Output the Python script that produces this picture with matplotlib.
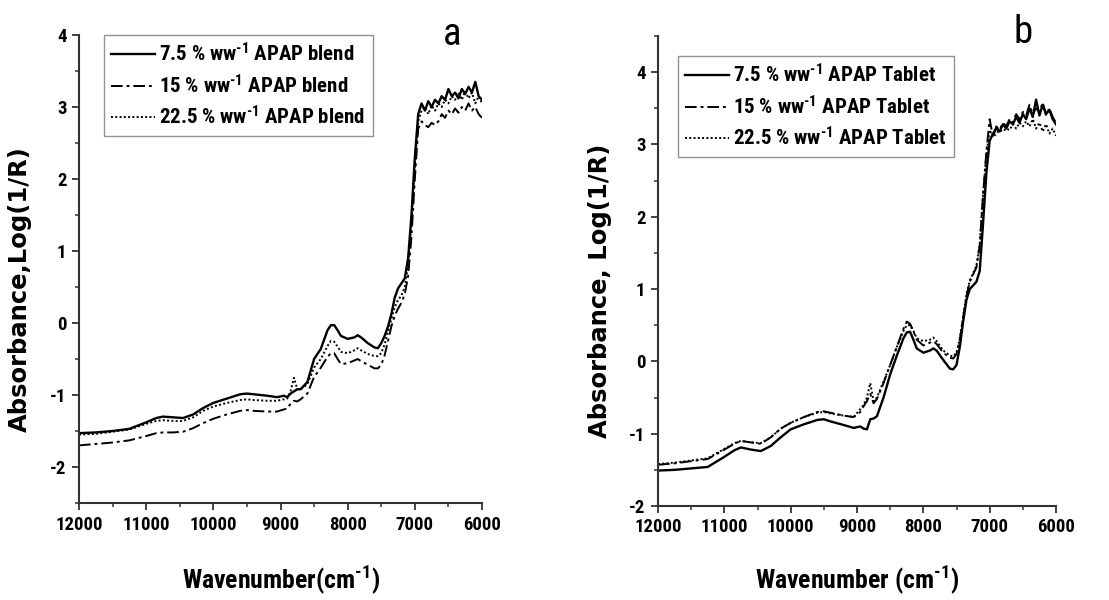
import matplotlib
matplotlib.use("Agg")
import matplotlib.pyplot as plt
from matplotlib.ticker import MultipleLocator

COND = "Roboto Condensed"
plt.rcParams["font.family"] = [COND, "DejaVu Sans"]
plt.rcParams["axes.unicode_minus"] = False
plt.rcParams["mathtext.fontset"] = "custom"
plt.rcParams["mathtext.rm"] = COND + ":bold"
plt.rcParams["mathtext.it"] = COND + ":bold"
plt.rcParams["mathtext.bf"] = COND + ":bold"

# ---------------- data ----------------
wavenumber = [12000, 11750, 11500, 11250, 11000, 10850, 10750, 10600, 10450, 10300,
              10150, 10000, 9800, 9600, 9500, 9400, 9200, 9050, 8950, 8900,
              8850, 8800, 8750, 8700, 8600, 8500, 8400, 8300, 8250, 8200,
              8150, 8100, 8000, 7900, 7850, 7800, 7700, 7600, 7550, 7500,
              7450, 7400, 7350, 7300, 7250, 7200, 7150, 7100, 7050, 7000,
              6950, 6900, 6850, 6800, 6750, 6700, 6650, 6600, 6550, 6500,
              6450, 6400, 6350, 6300, 6250, 6200, 6150, 6100, 6050, 6000]

# panel a : blends
blend_7_5 = [-1.53, -1.52, -1.50, -1.47, -1.38, -1.32, -1.30, -1.31, -1.32, -1.27,
             -1.18, -1.11, -1.05, -0.99, -0.98, -0.99, -1.01, -1.03, -1.01, -1.03,
             -0.98, -0.95, -0.92, -0.92, -0.82, -0.50, -0.36, -0.10, -0.03, -0.03,
             -0.10, -0.18, -0.22, -0.20, -0.17, -0.20, -0.28, -0.34, -0.35, -0.28,
             -0.18, -0.05, 0.12, 0.35, 0.48, 0.55, 0.62, 0.90, 1.50, 2.30,
             2.90, 3.05, 2.95, 3.08, 3.00, 3.10, 3.05, 3.15, 3.10, 3.25,
             3.15, 3.20, 3.12, 3.25, 3.18, 3.28, 3.20, 3.35, 3.15, 3.10]
blend_15 = [-1.70, -1.68, -1.66, -1.63, -1.57, -1.53, -1.52, -1.52, -1.51, -1.46,
            -1.39, -1.33, -1.27, -1.22, -1.21, -1.22, -1.23, -1.23, -1.20, -1.19,
            -1.12, -1.08, -1.09, -1.06, -0.98, -0.75, -0.62, -0.47, -0.42, -0.42,
            -0.50, -0.57, -0.56, -0.52, -0.50, -0.53, -0.58, -0.63, -0.63, -0.58,
            -0.45, -0.25, -0.05, 0.10, 0.20, 0.28, 0.40, 0.65, 1.20, 2.00,
            2.70, 2.80, 2.75, 2.72, 2.78, 2.75, 2.80, 2.90, 2.85, 2.95,
            2.90, 2.98, 2.92, 3.00, 2.95, 3.05, 2.95, 3.00, 2.90, 2.85]
blend_22_5 = [-1.55, -1.54, -1.51, -1.48, -1.40, -1.36, -1.35, -1.36, -1.36, -1.31,
              -1.22, -1.16, -1.11, -1.07, -1.06, -1.07, -1.08, -1.08, -1.06, -1.05,
              -0.95, -0.76, -0.92, -0.92, -0.85, -0.62, -0.50, -0.32, -0.25, -0.26,
              -0.33, -0.40, -0.42, -0.38, -0.35, -0.38, -0.43, -0.46, -0.46, -0.42,
              -0.30, -0.12, 0.05, 0.22, 0.32, 0.38, 0.50, 0.80, 1.40, 2.20,
              2.80, 2.95, 3.00, 2.90, 3.02, 2.95, 3.05, 3.00, 3.10, 3.05,
              3.15, 3.10, 3.20, 3.10, 3.22, 3.12, 3.20, 3.05, 3.15, 3.05]

# panel b : tablets
tablet_7_5 = [-1.51, -1.50, -1.48, -1.46, -1.32, -1.23, -1.19, -1.22, -1.24, -1.17,
              -1.05, -0.94, -0.87, -0.81, -0.80, -0.83, -0.88, -0.92, -0.90, -0.93,
              -0.94, -0.80, -0.79, -0.76, -0.50, -0.18, 0.08, 0.32, 0.40, 0.41,
              0.30, 0.18, 0.12, 0.15, 0.18, 0.15, 0.02, -0.10, -0.11, -0.05,
              0.20, 0.55, 0.85, 1.00, 1.05, 1.10, 1.25, 1.90, 2.60, 3.05,
              3.15, 3.22, 3.18, 3.28, 3.22, 3.32, 3.28, 3.38, 3.30, 3.42,
              3.35, 3.50, 3.38, 3.62, 3.40, 3.55, 3.42, 3.48, 3.35, 3.28]
tablet_15 = [-1.43, -1.41, -1.38, -1.35, -1.22, -1.14, -1.10, -1.12, -1.14, -1.05,
             -0.93, -0.85, -0.77, -0.70, -0.69, -0.71, -0.75, -0.77, -0.70, -0.62,
             -0.55, -0.45, -0.58, -0.52, -0.30, -0.05, 0.20, 0.45, 0.55, 0.52,
             0.42, 0.30, 0.22, 0.26, 0.28, 0.24, 0.12, 0.05, 0.04, 0.10,
             0.30, 0.60, 0.90, 1.10, 1.20, 1.30, 1.60, 2.30, 2.90, 3.35,
             3.10, 3.25, 3.20, 3.30, 3.25, 3.35, 3.30, 3.42, 3.35, 3.45,
             3.40, 3.55, 3.42, 3.50, 3.45, 3.58, 3.40, 3.50, 3.38, 3.30]
tablet_22_5 = [-1.42, -1.40, -1.37, -1.34, -1.21, -1.13, -1.10, -1.12, -1.13, -1.05,
               -0.93, -0.85, -0.77, -0.71, -0.70, -0.72, -0.75, -0.77, -0.66, -0.60,
               -0.50, -0.30, -0.55, -0.50, -0.28, -0.05, 0.20, 0.42, 0.50, 0.50,
               0.42, 0.32, 0.28, 0.30, 0.33, 0.28, 0.15, 0.08, 0.07, 0.12,
               0.32, 0.62, 0.92, 1.12, 1.22, 1.32, 1.62, 2.30, 2.85, 3.20,
               3.10, 3.15, 3.20, 3.18, 3.22, 3.20, 3.28, 3.22, 3.30, 3.25,
               3.32, 3.25, 3.35, 3.22, 3.30, 3.18, 3.28, 3.15, 3.22, 3.12]

labels_a = [r"7.5 % ww$^{\text{-1}}$ APAP blend", r"15 % ww$^{\text{-1}}$ APAP blend",
            r"22.5 % ww$^{\text{-1}}$ APAP blend"]
labels_b = [r"7.5 % ww$^{\text{-1}}$ APAP Tablet", r"15 % ww$^{\text{-1}}$ APAP Tablet",
            r"22.5 % ww$^{\text{-1}}$ APAP Tablet"]
x_ticks = [12000, 11000, 10000, 9000, 8000, 7000, 6000]

# ---------------- figure ----------------
W, H = 1109, 600
fig = plt.figure(figsize=(W / 100, H / 100), dpi=100)

def px_axes(x0, x1, y0, y1):
    return fig.add_axes([x0 / W, 1 - y1 / H, (x1 - x0) / W, (y1 - y0) / H])

ax_a = px_axes(79, 482, 35, 503)
ax_b = px_axes(658, 1056, 36, 506)

styles = [dict(ls="-", lw=1.7), dict(ls=(0, (6, 2, 1.5, 2)), lw=1.4), dict(ls=(0, (1, 1.2)), lw=1.4)]

def style_axes(ax, ylim):
    ax.set_xlim(12000, 6000)
    ax.set_ylim(*ylim)
    ax.set_xticks(x_ticks)
    ax.xaxis.set_minor_locator(MultipleLocator(500))
    ax.yaxis.set_major_locator(MultipleLocator(1))
    ax.yaxis.set_minor_locator(MultipleLocator(0.5))
    for s in ("top", "right"):
        ax.spines[s].set_visible(False)
    for s in ("left", "bottom"):
        ax.spines[s].set_linewidth(1.5)
        ax.spines[s].set_color("#333333")
    ax.tick_params(which="major", direction="out", length=5, width=1.3, color="#333333",
                   labelsize=13.5, pad=4)
    ax.tick_params(which="minor", direction="out", length=3, width=1.1, color="#333333")
    for lab in ax.get_xticklabels() + ax.get_yticklabels():
        lab.set_fontweight("bold")
        lab.set_family(COND)
    ax.patch.set_visible(False)

for ax, series, labels, ylim in [
    (ax_a, [blend_7_5, blend_15, blend_22_5], labels_a, (-2.5, 4)),
    (ax_b, [tablet_7_5, tablet_15, tablet_22_5], labels_b, (-2, 4.5)),
]:
    for y, lab, st in zip(series, labels, styles):
        ax.plot(wavenumber, y, color="black", label=lab, **st)
    style_axes(ax, ylim)

leg_kw = dict(loc="upper left", frameon=True, fancybox=False, borderaxespad=0,
              handlelength=2.1, handletextpad=0.2, labelspacing=0.4, borderpad=0.35,
              prop=dict(family=COND, weight="bold", size=15))
la = ax_a.legend(bbox_to_anchor=((104 - 79) / 403, 1.0), **leg_kw)
lb = ax_b.legend(bbox_to_anchor=((678 - 658) / 398, (506 - 56) / 470), **leg_kw)
for lg in (la, lb):
    lg.get_frame().set_edgecolor("#777777")
    lg.get_frame().set_linewidth(1.0)

# axis labels
fig.text(20 / W, 1 - 289 / H, "Absorbance,Log(1/R)", rotation=90, ha="center", va="center",
         family="DejaVu Sans", weight="bold", fontsize=17.5)
fig.text(600 / W, 1 - 291 / H, "Absorbance, Log(1/R)", rotation=90, ha="center", va="center",
         family="DejaVu Sans", weight="bold", fontsize=17.5)
fig.text(281 / W, 1 - 580 / H, r"Wavenumber(cm$^{\text{-1}}$)", ha="center", va="center",
         family=COND, weight="bold", fontsize=18.5)
fig.text(857 / W, 1 - 580 / H, r"Wavenumber (cm$^{\text{-1}}$)", ha="center", va="center",
         family=COND, weight="bold", fontsize=18.5)

# panel letters
fig.text(452 / W, 1 - 45 / H, "a", ha="center", va="baseline", family=COND, fontsize=28)
fig.text(1023 / W, 1 - 43 / H, "b", ha="center", va="baseline", family=COND, fontsize=28)

fig.savefig("out.png", dpi=100)
